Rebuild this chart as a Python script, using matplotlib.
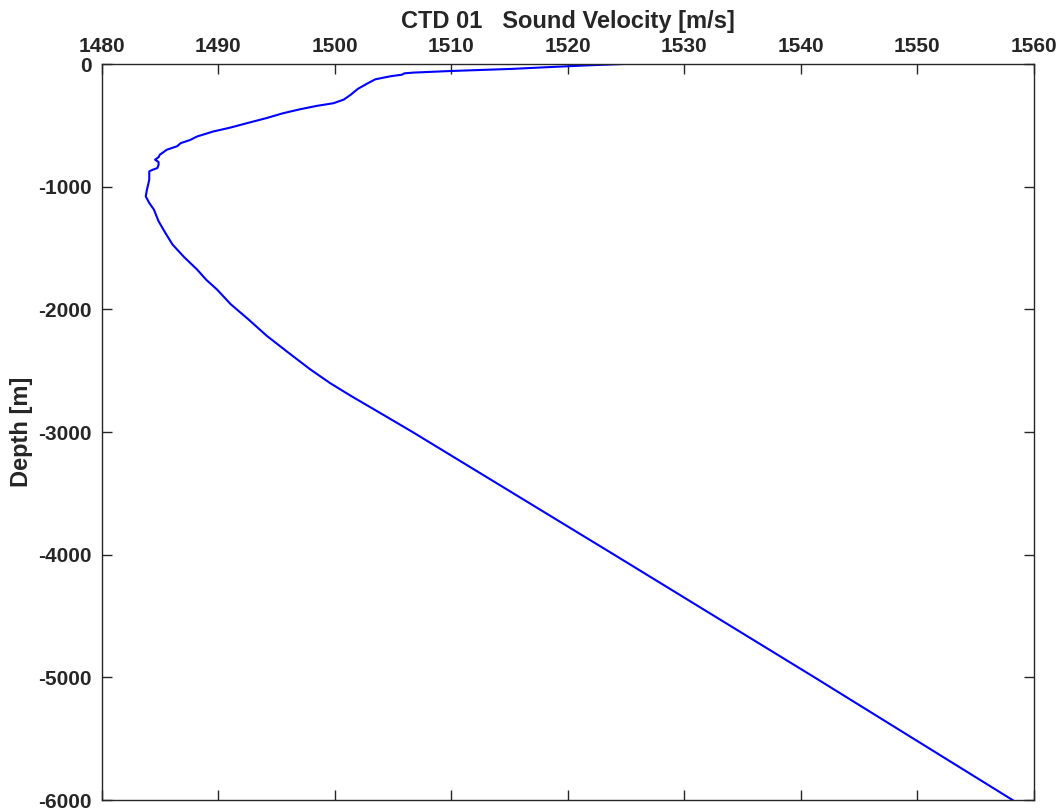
import matplotlib
matplotlib.use("Agg")
import matplotlib.pyplot as plt

# Depth [m] and sound velocity [m/s]
depth_m = [0, -12, -25, -40, -57, -70, -76, -87, -100, -125, -160, -203, -250, -290, -320,
           -341, -370, -401, -440, -482, -520, -550, -591, -620, -645, -670, -699, -720, -740, -760,
           -780, -800, -821, -848, -862, -875, -905, -943, -985, -1024, -1079, -1133, -1187, -1235, -1282,
           -1380, -1472, -1575, -1675, -1760, -1837, -1959, -2081, -2217, -2350,
           -2488, -2600, -2705, -2827, -3000, -4000, -5000, -6000]
velocity = [1524.8, 1521.5, 1518.5, 1515.2, 1510.0, 1506.8, 1506.0, 1505.8, 1504.8, 1503.5,
            1502.8, 1502.0, 1501.4, 1500.8, 1499.9, 1498.5, 1497.0, 1495.6, 1494.2, 1492.5,
            1491.0, 1489.6, 1488.2, 1487.6, 1486.8, 1486.5, 1485.6, 1485.3, 1485.0, 1484.9,
            1484.6, 1484.9, 1484.9, 1484.8, 1484.4, 1484.1, 1484.1, 1484.1, 1484.0, 1483.9,
            1483.8, 1484.1, 1484.5, 1484.7, 1484.9, 1485.5, 1486.1, 1487.1, 1488.2, 1489.0,
            1489.9, 1491.1, 1492.6, 1494.2, 1496.0, 1497.9, 1499.6, 1501.4, 1503.6, 1506.7,
            1524.0, 1541.2, 1558.2]

x_ticks = [1480, 1490, 1500, 1510, 1520, 1530, 1540, 1550, 1560]
y_ticks = [0, -1000, -2000, -3000, -4000, -5000, -6000]

plt.rcParams['font.family'] = ['Liberation Sans', 'DejaVu Sans']
plt.rcParams['font.weight'] = 'bold'

axis_color = '#262626'
fig = plt.figure(figsize=(10.61, 8.10), dpi=100)
ax = fig.add_axes([101.5 / 1061, 10 / 810, 932 / 1061, 736 / 810])

ax.plot(velocity, depth_m, color='#0000ff', linewidth=1.5)

ax.set_xlim(1480, 1560)
ax.set_ylim(-6000, 0)
ax.set_xticks(x_ticks)
ax.set_yticks(y_ticks)
ax.set_xticklabels([str(v) for v in x_ticks])
ax.set_yticklabels([str(v) for v in y_ticks])

ax.xaxis.tick_top()
ax.xaxis.set_label_position('top')
ax.tick_params(axis='both', which='both', direction='in', length=7.5, width=1.0,
               color=axis_color, labelcolor=axis_color, labelsize=15,
               top=True, bottom=True, left=True, right=True,
               labeltop=True, labelbottom=False, labelleft=True, labelright=False)
ax.tick_params(axis='x', pad=6)
ax.tick_params(axis='y', pad=7)
for s in ax.spines.values():
    s.set_color(axis_color)
    s.set_linewidth(1.0)

ax.set_xlabel('CTD 01   Sound Velocity [m/s]', fontsize=17, fontweight='bold',
              color=axis_color, labelpad=6)
ax.set_ylabel('Depth [m]', fontsize=17, fontweight='bold', color=axis_color, labelpad=4)

fig.savefig('out.png', dpi=100)
